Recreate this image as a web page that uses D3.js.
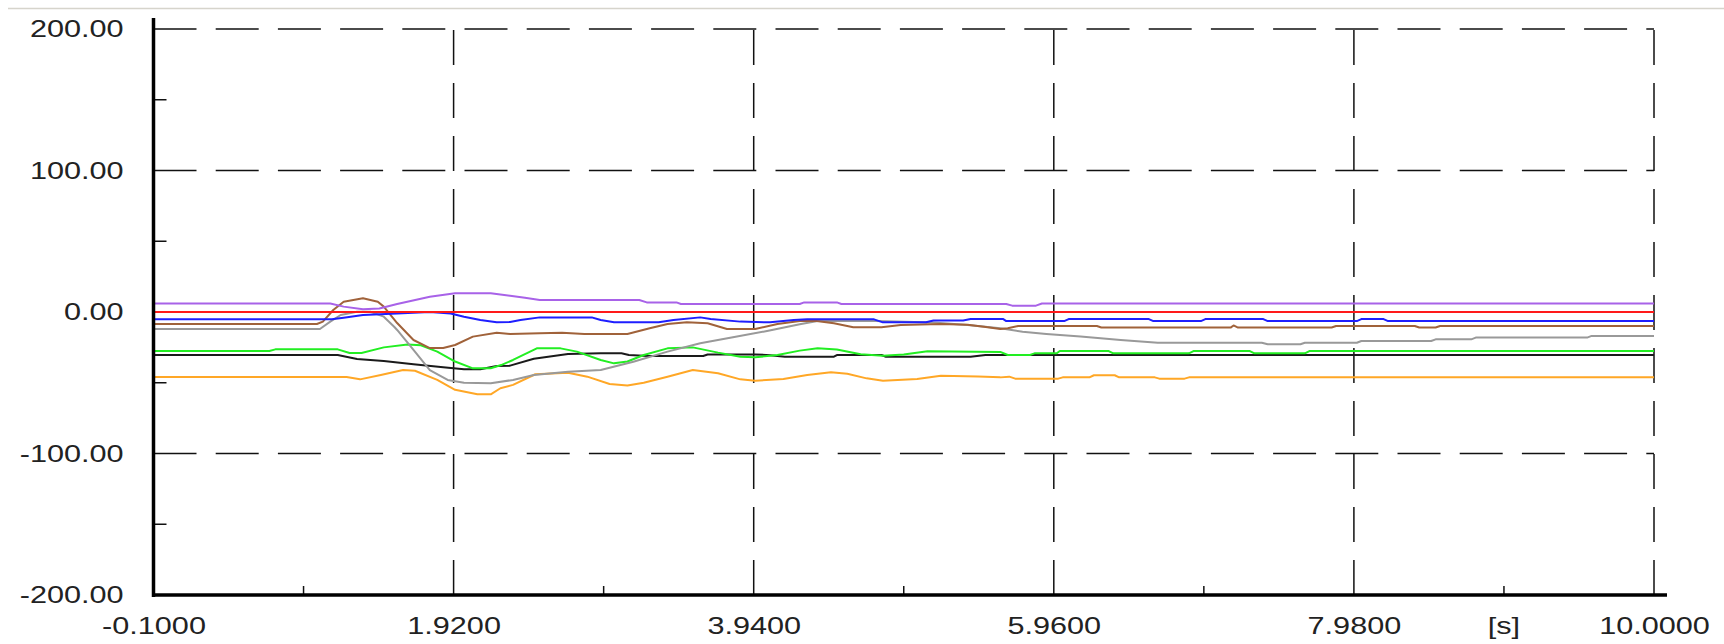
<!DOCTYPE html>
<html>
<head>
<meta charset="utf-8">
<script src="https://cdn.jsdelivr.net/npm/d3@7"></script>
<style>
  html, body { margin: 0; padding: 0; background: #ffffff; }
  svg { display: block; }
  text { font-family: "Liberation Sans", Arial, sans-serif; fill: #222; }
</style>
</head>
<body>
<svg id="chart" width="1724" height="644"></svg>
<script>
// ---- Data ----
const xTicks = [-0.1, 1.92, 3.94, 5.96, 7.98, 10.0];
const xMinorTicks = [0.91, 2.93, 4.95, 6.97, 8.99];
const yTicks = [-200, -100, 0, 100, 200];
const yMinorTicks = [-150, -50, 50, 150];
const xUnitLabel = "[s]";

const purpleT = [-0.1, 1.09, 1.18, 1.31, 1.42, 1.54, 1.76, 1.93, 2.17, 2.3, 2.4, 2.5, 3.17, 3.22, 3.42, 3.45, 4.25, 4.28, 4.5, 4.53, 5.64, 5.68, 5.84, 5.88, 10.0];
const purpleV = [6.0, 6.0, 3.8, 2.0, 2.5, 5.6, 10.8, 13.2, 13.2, 11.5, 10.0, 8.5, 8.5, 6.8, 6.8, 5.7, 5.7, 6.8, 6.8, 5.7, 5.7, 4.5, 4.5, 6.0, 6.0];

const redT = [-0.1, 10.0];
const redV = [0, 0];

const blueT = [-0.1, 1.1, 1.18, 1.31, 1.54, 1.76, 1.9, 1.99, 2.1, 2.21, 2.3, 2.37, 2.5, 2.85, 2.91, 3.0, 3.3, 3.4, 3.58, 3.65, 3.85, 4.05, 4.21, 4.3, 4.75, 4.81, 5.1, 5.15, 5.35, 5.4, 5.62, 5.64, 6.03, 6.06, 6.6, 6.63, 6.95, 6.98, 7.37, 7.4, 8.0, 8.03, 8.18, 8.21, 10.0];
const blueV = [-5.2, -5.2, -4, -2.1, -1, 0, -1, -3.3, -5.7, -7.3, -7, -5.7, -3.8, -3.8, -5.7, -7.3, -7.3, -5.7, -3.8, -5, -6.8, -7.3, -5.7, -5.2, -5.2, -7.3, -7.3, -6, -6, -5, -5, -6.4, -6.4, -5, -5, -6.4, -6.4, -5, -5, -6.4, -6.4, -5, -5, -6.4, -6.4];

const brownT = [-0.1, 1.0, 1.04, 1.11, 1.18, 1.31, 1.41, 1.45, 1.54, 1.65, 1.76, 1.85, 1.93, 2.05, 2.21, 2.3, 2.5, 2.65, 2.8, 3.09, 3.24, 3.36, 3.49, 3.63, 3.76, 3.95, 4.1, 4.25, 4.35, 4.48, 4.61, 4.8, 4.93, 5.2, 5.38, 5.49, 5.6, 5.65, 5.72, 6.25, 6.28, 7.15, 7.17, 7.2, 7.83, 7.86, 8.39, 8.42, 8.53, 8.56, 10.0];
const brownV = [-8.5, -8.5, -6.8, 1.4, 7.3, 9.7, 7.3, 3.8, -7.8, -19.8, -25.5, -25.5, -23.3, -17.4, -14.6, -15.5, -15, -14.6, -15.5, -15.5, -11.5, -8.5, -7.3, -8, -12, -12, -8.5, -6.4, -6.2, -8, -10.8, -10.8, -9.2, -8.5, -9, -10.4, -12, -11.5, -9.9, -9.9, -11, -11, -9.5, -11, -11, -9.9, -9.9, -11, -11, -9.9, -9.9];

const grayT = [-0.1, 1.02, 1.09, 1.16, 1.27, 1.36, 1.45, 1.52, 1.54, 1.65, 1.76, 1.88, 1.99, 2.17, 2.32, 2.46, 2.69, 2.91, 3.13, 3.36, 3.58, 3.8, 4.03, 4.25, 4.37, 4.7, 5.15, 5.38, 5.6, 5.75, 5.91, 6.14, 6.41, 6.66, 7.36, 7.4, 7.62, 7.65, 8.0, 8.03, 8.5, 8.53, 8.77, 8.8, 9.55, 9.58, 10.0];
const grayV = [-12, -12, -6.8, -2.1, 0.2, 0.2, -3.3, -10.4, -12.7, -26.8, -41, -48, -50, -50.4, -48, -44.5, -42.2, -41, -35.1, -28, -22.1, -17.9, -13.4, -8.7, -6.4, -6.2, -7.5, -9.2, -11.5, -13.9, -15.5, -17.4, -19.8, -21.7, -21.7, -22.8, -22.8, -21.7, -21.7, -20.5, -20.5, -19.3, -19.3, -18.1, -18.1, -16.9, -16.9];

const greenT = [-0.1, 0.68, 0.72, 1.14, 1.22, 1.3, 1.45, 1.61, 1.7, 1.81, 1.93, 2.05, 2.17, 2.24, 2.32, 2.48, 2.64, 2.75, 2.91, 3.0, 3.09, 3.2, 3.36, 3.53, 3.7, 3.85, 3.95, 4.1, 4.25, 4.37, 4.5, 4.66, 4.81, 4.95, 5.11, 5.6, 5.65, 5.8, 5.83, 5.98, 6.0, 6.33, 6.36, 6.87, 6.9, 7.28, 7.31, 7.65, 7.68, 10.0];
const greenV = [-27.6, -27.6, -26.4, -26.4, -29, -29, -25, -22.9, -23.5, -28, -35, -39.8, -39.8, -37.5, -33.9, -25.7, -25.7, -28, -33.9, -36.3, -35, -30.4, -25.7, -25, -28.7, -31.6, -32, -30.4, -27.3, -25.7, -26.5, -29.9, -30.9, -30, -27.8, -28.2, -30.4, -30.4, -29.2, -29.2, -27.6, -27.6, -29.2, -29.2, -27.6, -27.6, -29.2, -29.2, -27.6, -27.6];

const blackT = [-0.1, 1.14, 1.27, 1.45, 1.65, 1.85, 1.99, 2.1, 2.21, 2.3, 2.46, 2.69, 2.91, 3.05, 3.1, 3.23, 3.6, 3.63, 3.95, 4.05, 4.15, 4.48, 4.5, 4.8, 4.83, 5.4, 5.5, 10.0];
const blackV = [-30.4, -30.4, -33.2, -34.6, -37, -39.1, -40.5, -40.5, -38.2, -37.9, -33, -29.7, -29.2, -29.2, -30.4, -31.1, -31.1, -30, -30, -30.5, -31.6, -31.6, -30.4, -30.4, -31.6, -31.6, -30.4, -30.4];

const orangeT = [-0.1, 1.2, 1.29, 1.43, 1.58, 1.66, 1.81, 1.93, 2.08, 2.17, 2.235, 2.32, 2.47, 2.69, 2.82, 2.97, 3.09, 3.2, 3.36, 3.53, 3.7, 3.85, 3.95, 4.14, 4.3, 4.46, 4.57, 4.7, 4.81, 5.04, 5.2, 5.45, 5.6, 5.66, 5.7, 5.99, 6.02, 6.2, 6.23, 6.37, 6.4, 6.64, 6.67, 6.84, 6.87, 10.0];
const orangeV = [-46, -46, -47.6, -44.5, -41, -41.5, -48, -55, -58.2, -58.2, -53.9, -51.5, -44, -42.9, -45.7, -50.9, -52, -50, -45.7, -41, -43.3, -47.6, -48.6, -47.3, -44.5, -42.6, -43.6, -46.9, -48.6, -47.3, -45, -45.5, -46.2, -45.7, -47.1, -47.1, -46.2, -46.2, -44.7, -44.7, -46.2, -46.2, -47.1, -47.1, -46.2, -46.2];

const seriesNames = ["black", "green", "orange", "gray", "brown", "blue", "red", "purple"];
const seriesColors = ["#1a1a1a", "#22ee22", "#ffa726", "#999999", "#a0623a", "#1e1eff", "#ff1a1a", "#a862e8"];
const seriesTimes = [blackT, greenT, orangeT, grayT, brownT, blueT, redT, purpleT];
const seriesValues = [blackV, greenV, orangeV, grayV, brownV, blueV, redV, purpleV];

// ---- Layout ----
const svg = d3.select("#chart");
const x = d3.scaleLinear().domain([-0.1, 10.0]).range([153.5, 1654]);
const y = d3.scaleLinear().domain([-200, 200]).range([595, 29]);
const SX = 1.25; // horizontal stretch of text as in reference
const fmt2 = d => d.toFixed(2);
const fmt4 = d => d.toFixed(4);

// top separator
svg.append("line")
  .attr("x1", 8).attr("x2", 1724).attr("y1", 8.5).attr("y2", 8.5)
  .attr("stroke", "#d6d4cc").attr("stroke-width", 1.5);

// horizontal dashed gridlines
svg.append("g").selectAll("line").data(yTicks.filter(d => d !== -200)).join("line")
  .attr("x1", x(-0.1)).attr("x2", x(10.0))
  .attr("y1", d => y(d)).attr("y2", d => y(d))
  .attr("stroke", "#111").attr("stroke-width", 1.5)
  .attr("stroke-dasharray", "43,19.2");

// vertical dashed gridlines (drawn from bottom to top)
svg.append("g").selectAll("line").data(xTicks.filter(d => d !== -0.1)).join("line")
  .attr("x1", d => x(d)).attr("x2", d => x(d))
  .attr("y1", y(-200)).attr("y2", y(200))
  .attr("stroke", "#111").attr("stroke-width", 1.5)
  .attr("stroke-dasharray", "35,18");

// minor ticks
svg.append("g").selectAll("line").data(yMinorTicks).join("line")
  .attr("x1", x(-0.1)).attr("x2", x(-0.1) + 13)
  .attr("y1", d => y(d)).attr("y2", d => y(d))
  .attr("stroke", "#111").attr("stroke-width", 1.5);
svg.append("g").selectAll("line").data(xMinorTicks).join("line")
  .attr("x1", d => x(d)).attr("x2", d => x(d))
  .attr("y1", y(-200)).attr("y2", y(-200) - 9)
  .attr("stroke", "#111").attr("stroke-width", 1.5);

// series lines
const line = d3.line().x(d => x(d[0])).y(d => y(d[1]));
seriesNames.forEach((name, i) => {
  const pts = seriesTimes[i].map((t, j) => [t, seriesValues[i][j]]);
  svg.append("path")
    .datum(pts)
    .attr("class", "series " + name)
    .attr("fill", "none")
    .attr("stroke", seriesColors[i])
    .attr("stroke-width", 2)
    .attr("stroke-linejoin", "round")
    .attr("d", line);
});

// axis lines (thick)
svg.append("line")
  .attr("x1", x(-0.1)).attr("x2", x(-0.1)).attr("y1", 18).attr("y2", y(-200) + 2)
  .attr("stroke", "#000").attr("stroke-width", 3.5);
svg.append("line")
  .attr("x1", x(-0.1) - 1.5).attr("x2", 1667).attr("y1", y(-200)).attr("y2", y(-200))
  .attr("stroke", "#000").attr("stroke-width", 3.5);

// axis labels via d3 axes
const yAxis = d3.axisLeft(y).tickValues(yTicks).tickSize(0).tickPadding(30).tickFormat(fmt2);
const gy = svg.append("g").attr("transform", `translate(${x(-0.1)},0)`).call(yAxis);
gy.select(".domain").remove();
gy.selectAll("text")
  .style("font-size", "24.5px")
  .attr("fill", "#222")
  .attr("x", function() { return +d3.select(this).attr("x") / SX; })
  .attr("transform", `scale(${SX},1)`);

const xAxis = d3.axisBottom(x).tickValues(xTicks).tickSize(0).tickPadding(22).tickFormat(fmt4);
const gx = svg.append("g").attr("transform", `translate(0,${y(-200)})`).call(xAxis);
gx.select(".domain").remove();
gx.selectAll("text")
  .style("font-size", "24.5px")
  .attr("fill", "#222")
  .attr("transform", `scale(${SX},1)`);

// unit label at the minor tick position
svg.append("text")
  .attr("transform", `translate(${x(xMinorTicks[4])},${y(-200) + 39}) scale(${SX},1)`)
  .attr("text-anchor", "middle")
  .style("font-size", "24.5px")
  .text(xUnitLabel);
</script>
</body>
</html>
